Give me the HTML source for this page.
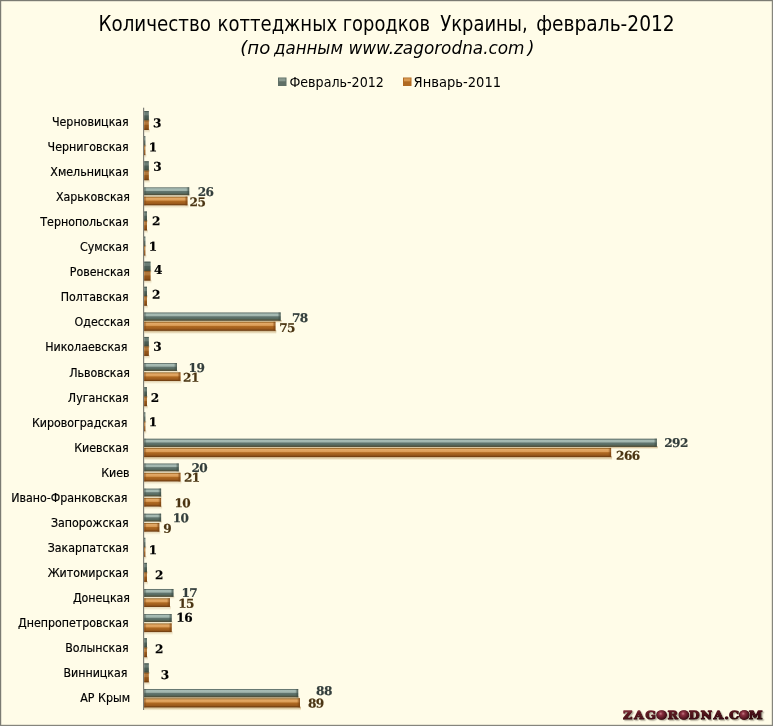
<!DOCTYPE html>
<html lang="ru"><head><meta charset="utf-8"><title>Количество коттеджных городков Украины, февраль-2012</title>
<style>
html,body{margin:0;padding:0;background:#fffce8;}
body{width:773px;height:726px;overflow:hidden;position:relative;}
svg{display:block;position:absolute;left:0;top:0;}
.t{font-family:"DejaVu Sans Condensed","Liberation Sans",sans-serif;fill:#000;}
.v{font-family:"DejaVu Serif","Liberation Serif",serif;font-weight:bold;font-size:12.1px;stroke-width:0.2px;letter-spacing:-0.55px;}
.logo{font-family:"DejaVu Serif","Liberation Serif",serif;font-weight:bold;}
</style></head><body>
<svg width="773" height="726" viewBox="0 0 773 726">
<defs>
<linearGradient id="gg" x1="0" y1="0" x2="0" y2="1">
<stop offset="0" stop-color="#62726c"/><stop offset="0.09" stop-color="#6a7c76"/>
<stop offset="0.17" stop-color="#a6bbb4"/><stop offset="0.40" stop-color="#a2b6ae"/>
<stop offset="0.52" stop-color="#627670"/><stop offset="0.76" stop-color="#566a60"/>
<stop offset="0.86" stop-color="#545a46"/><stop offset="1" stop-color="#4a4630"/>
</linearGradient>
<linearGradient id="og" x1="0" y1="0" x2="0" y2="1">
<stop offset="0" stop-color="#8e6428"/><stop offset="0.09" stop-color="#b27a38"/>
<stop offset="0.17" stop-color="#e2a866"/><stop offset="0.40" stop-color="#dc9e58"/>
<stop offset="0.52" stop-color="#b06a22"/><stop offset="0.80" stop-color="#9b5a1c"/>
<stop offset="0.90" stop-color="#7c4614"/><stop offset="1" stop-color="#6b3a10"/>
</linearGradient>
<linearGradient id="sh" x1="0" y1="0" x2="0" y2="1">
<stop offset="0" stop-color="#c4a87c" stop-opacity="1"/><stop offset="0.5" stop-color="#d6c29a" stop-opacity="0.8"/><stop offset="1" stop-color="#e6dab8" stop-opacity="0"/>
</linearGradient>
<linearGradient id="glcap" x1="1" y1="0" x2="0" y2="0">
<stop offset="0" stop-color="#3c4c44" stop-opacity="0"/><stop offset="1" stop-color="#3c4c44" stop-opacity="0.7"/>
</linearGradient>
<linearGradient id="olcap" x1="1" y1="0" x2="0" y2="0">
<stop offset="0" stop-color="#7a4210" stop-opacity="0"/><stop offset="1" stop-color="#7a4210" stop-opacity="0.7"/>
</linearGradient>
<linearGradient id="gcap" x1="0" y1="0" x2="1" y2="0">
<stop offset="0" stop-color="#3c4c44" stop-opacity="0"/><stop offset="1" stop-color="#3c4c44" stop-opacity="0.85"/>
</linearGradient>
<linearGradient id="ocap" x1="0" y1="0" x2="1" y2="0">
<stop offset="0" stop-color="#7a4210" stop-opacity="0"/><stop offset="1" stop-color="#7a4210" stop-opacity="0.85"/>
</linearGradient>
<linearGradient id="lg" x1="0" y1="0" x2="0.6" y2="1">
<stop offset="0" stop-color="#9a4450"/><stop offset="0.3" stop-color="#5e1822"/><stop offset="1" stop-color="#34080e"/>
</linearGradient>
<radialGradient id="ball" cx="0.4" cy="0.35" r="0.65">
<stop offset="0" stop-color="#c27a86"/><stop offset="0.3" stop-color="#8a3040"/><stop offset="1" stop-color="#3e0c14"/>
</radialGradient>
<filter id="ds" x="-5%" y="-30%" width="110%" height="180%"><feDropShadow dx="1.2" dy="1.2" stdDeviation="0.35" flood-color="#bdb8a6" flood-opacity="1"/></filter>
</defs>
<rect x="0" y="0" width="773" height="726" fill="#fffce8"/>

<text class="t" y="31.3" font-size="21"><tspan x="98.5" textLength="112.5" lengthAdjust="spacingAndGlyphs">Количество</tspan> <tspan x="217.6" textLength="119.5" lengthAdjust="spacingAndGlyphs">коттеджных</tspan> <tspan x="342.7" textLength="87.3" lengthAdjust="spacingAndGlyphs">городков</tspan> <tspan x="440.2" textLength="87.5" lengthAdjust="spacingAndGlyphs">Украины,</tspan> <tspan x="536.2" textLength="138.5" lengthAdjust="spacingAndGlyphs">февраль-2012</tspan></text>
<text class="t" y="53.7" font-size="18" font-style="italic"><tspan x="240.3" textLength="30" lengthAdjust="spacingAndGlyphs">(по</tspan> <tspan x="274" textLength="69" lengthAdjust="spacingAndGlyphs">данным</tspan> <tspan x="348.5" textLength="176" lengthAdjust="spacingAndGlyphs">www.zagorodna.com</tspan> <tspan x="527.5" textLength="7" lengthAdjust="spacingAndGlyphs">)</tspan></text>
<rect x="278" y="77.5" width="8.5" height="8.5" fill="#5f6f66"/><rect x="279" y="78.3" width="6.5" height="3" fill="#8a9a90"/>
<text class="t" x="289.4" y="86.6" font-size="14.6" textLength="94.5" lengthAdjust="spacingAndGlyphs">Февраль-2012</text>
<rect x="403" y="77.5" width="8.5" height="8.5" fill="#b06a22"/><rect x="404" y="78.3" width="6.5" height="3" fill="#d89850"/>
<text class="t" x="413.6" y="86.6" font-size="14.6" textLength="87.5" lengthAdjust="spacingAndGlyphs">Январь-2011</text>
<rect x="143" y="107.7" width="1.2" height="602.3" fill="#7f7f77"/>
<rect x="144.0" y="119.70" width="5.8" height="3" fill="url(#sh)" opacity="0.45"/>
<rect x="144.0" y="129.30" width="5.8" height="4" fill="url(#sh)" opacity="0.5"/>
<rect x="144.2" y="111.00" width="4.6" height="9.4" fill="url(#gg)"/>
<rect x="144.2" y="120.35" width="4.6" height="9.65" fill="url(#og)"/>
<rect x="144.2" y="111.00" width="4.6" height="9.4" fill="#3c4c44" opacity="0.55"/>
<rect x="144.2" y="120.35" width="4.6" height="9.65" fill="#7a4210" opacity="0.45"/>
<rect x="144.0" y="144.80" width="2.3" height="3" fill="url(#sh)" opacity="0.45"/>
<rect x="144.0" y="154.40" width="2.3" height="4" fill="url(#sh)" opacity="0.5"/>
<rect x="144.2" y="136.10" width="1.1" height="9.4" fill="url(#gg)"/>
<rect x="144.2" y="145.45" width="1.1" height="9.65" fill="url(#og)"/>
<rect x="144.2" y="136.10" width="1.1" height="9.4" fill="#3c4c44" opacity="0.55"/>
<rect x="144.2" y="145.45" width="1.1" height="9.65" fill="#7a4210" opacity="0.45"/>
<rect x="144.0" y="169.91" width="5.8" height="3" fill="url(#sh)" opacity="0.45"/>
<rect x="144.0" y="179.51" width="5.8" height="4" fill="url(#sh)" opacity="0.5"/>
<rect x="144.2" y="161.21" width="4.6" height="9.4" fill="url(#gg)"/>
<rect x="144.2" y="170.56" width="4.6" height="9.65" fill="url(#og)"/>
<rect x="144.2" y="161.21" width="4.6" height="9.4" fill="#3c4c44" opacity="0.55"/>
<rect x="144.2" y="170.56" width="4.6" height="9.65" fill="#7a4210" opacity="0.45"/>
<rect x="144.0" y="194.51" width="46.2" height="3" fill="url(#sh)" opacity="0.45"/>
<rect x="144.0" y="204.61" width="44.5" height="4" fill="url(#sh)" opacity="0.5"/>
<rect x="144.2" y="187.31" width="45.0" height="7.9" fill="url(#gg)"/>
<rect x="144.2" y="196.61" width="43.2" height="8.7" fill="url(#og)"/>
<rect x="186.2" y="187.31" width="3.0" height="7.9" fill="url(#gcap)"/>
<rect x="184.4" y="196.61" width="3.0" height="8.7" fill="url(#ocap)"/>
<rect x="144.2" y="187.31" width="2.5" height="7.9" fill="url(#glcap)"/>
<rect x="144.2" y="196.61" width="2.5" height="8.7" fill="url(#olcap)"/>
<rect x="144.0" y="220.12" width="4.0" height="3" fill="url(#sh)" opacity="0.45"/>
<rect x="144.0" y="229.72" width="4.0" height="4" fill="url(#sh)" opacity="0.5"/>
<rect x="144.2" y="211.42" width="2.8" height="9.4" fill="url(#gg)"/>
<rect x="144.2" y="220.77" width="2.8" height="9.65" fill="url(#og)"/>
<rect x="144.2" y="211.42" width="2.8" height="9.4" fill="#3c4c44" opacity="0.55"/>
<rect x="144.2" y="220.77" width="2.8" height="9.65" fill="#7a4210" opacity="0.45"/>
<rect x="144.0" y="245.22" width="2.3" height="3" fill="url(#sh)" opacity="0.45"/>
<rect x="144.0" y="254.82" width="2.3" height="4" fill="url(#sh)" opacity="0.5"/>
<rect x="144.2" y="236.52" width="1.1" height="9.4" fill="url(#gg)"/>
<rect x="144.2" y="245.87" width="1.1" height="9.65" fill="url(#og)"/>
<rect x="144.2" y="236.52" width="1.1" height="9.4" fill="#3c4c44" opacity="0.55"/>
<rect x="144.2" y="245.87" width="1.1" height="9.65" fill="#7a4210" opacity="0.45"/>
<rect x="144.0" y="270.32" width="7.5" height="3" fill="url(#sh)" opacity="0.45"/>
<rect x="144.0" y="279.92" width="7.5" height="4" fill="url(#sh)" opacity="0.5"/>
<rect x="144.2" y="261.62" width="6.3" height="9.4" fill="url(#gg)"/>
<rect x="144.2" y="270.97" width="6.3" height="9.65" fill="url(#og)"/>
<rect x="144.2" y="261.62" width="6.3" height="9.4" fill="#3c4c44" opacity="0.55"/>
<rect x="144.2" y="270.97" width="6.3" height="9.65" fill="#7a4210" opacity="0.45"/>
<rect x="144.0" y="295.43" width="4.0" height="3" fill="url(#sh)" opacity="0.45"/>
<rect x="144.0" y="305.03" width="4.0" height="4" fill="url(#sh)" opacity="0.5"/>
<rect x="144.2" y="286.73" width="2.8" height="9.4" fill="url(#gg)"/>
<rect x="144.2" y="296.08" width="2.8" height="9.65" fill="url(#og)"/>
<rect x="144.2" y="286.73" width="2.8" height="9.4" fill="#3c4c44" opacity="0.55"/>
<rect x="144.2" y="296.08" width="2.8" height="9.65" fill="#7a4210" opacity="0.45"/>
<rect x="144.0" y="320.03" width="137.6" height="3" fill="url(#sh)" opacity="1.0"/>
<rect x="144.0" y="330.13" width="132.3" height="4" fill="url(#sh)" opacity="1.0"/>
<rect x="144.2" y="312.43" width="136.4" height="8.3" fill="url(#gg)"/>
<rect x="144.2" y="321.73" width="131.2" height="9.1" fill="url(#og)"/>
<rect x="277.6" y="312.43" width="3.0" height="8.3" fill="url(#gcap)"/>
<rect x="272.4" y="321.73" width="3.0" height="9.1" fill="url(#ocap)"/>
<rect x="144.2" y="312.43" width="2.5" height="8.3" fill="url(#glcap)"/>
<rect x="144.2" y="321.73" width="2.5" height="9.1" fill="url(#olcap)"/>
<rect x="144.0" y="345.64" width="5.8" height="3" fill="url(#sh)" opacity="0.45"/>
<rect x="144.0" y="355.24" width="5.8" height="4" fill="url(#sh)" opacity="0.5"/>
<rect x="144.2" y="336.94" width="4.6" height="9.4" fill="url(#gg)"/>
<rect x="144.2" y="346.29" width="4.6" height="9.65" fill="url(#og)"/>
<rect x="144.2" y="336.94" width="4.6" height="9.4" fill="#3c4c44" opacity="0.55"/>
<rect x="144.2" y="346.29" width="4.6" height="9.65" fill="#7a4210" opacity="0.45"/>
<rect x="144.0" y="370.24" width="33.9" height="3" fill="url(#sh)" opacity="0.45"/>
<rect x="144.0" y="380.34" width="37.4" height="4" fill="url(#sh)" opacity="0.5"/>
<rect x="144.2" y="363.04" width="32.7" height="7.9" fill="url(#gg)"/>
<rect x="144.2" y="372.34" width="36.2" height="8.7" fill="url(#og)"/>
<rect x="173.9" y="363.04" width="3.0" height="7.9" fill="url(#gcap)"/>
<rect x="177.4" y="372.34" width="3.0" height="8.7" fill="url(#ocap)"/>
<rect x="144.2" y="363.04" width="2.5" height="7.9" fill="url(#glcap)"/>
<rect x="144.2" y="372.34" width="2.5" height="8.7" fill="url(#olcap)"/>
<rect x="144.0" y="395.84" width="4.0" height="3" fill="url(#sh)" opacity="0.45"/>
<rect x="144.0" y="405.44" width="4.0" height="4" fill="url(#sh)" opacity="0.5"/>
<rect x="144.2" y="387.14" width="2.8" height="9.4" fill="url(#gg)"/>
<rect x="144.2" y="396.49" width="2.8" height="9.65" fill="url(#og)"/>
<rect x="144.2" y="387.14" width="2.8" height="9.4" fill="#3c4c44" opacity="0.55"/>
<rect x="144.2" y="396.49" width="2.8" height="9.65" fill="#7a4210" opacity="0.45"/>
<rect x="144.0" y="420.95" width="2.3" height="3" fill="url(#sh)" opacity="0.45"/>
<rect x="144.0" y="430.55" width="2.3" height="4" fill="url(#sh)" opacity="0.5"/>
<rect x="144.2" y="412.25" width="1.1" height="9.4" fill="url(#gg)"/>
<rect x="144.2" y="421.60" width="1.1" height="9.65" fill="url(#og)"/>
<rect x="144.2" y="412.25" width="1.1" height="9.4" fill="#3c4c44" opacity="0.55"/>
<rect x="144.2" y="421.60" width="1.1" height="9.65" fill="#7a4210" opacity="0.45"/>
<rect x="144.0" y="446.25" width="513.8" height="3" fill="url(#sh)" opacity="1.0"/>
<rect x="144.0" y="456.35" width="468.1" height="4" fill="url(#sh)" opacity="1.0"/>
<rect x="144.2" y="438.65" width="512.6" height="8.3" fill="url(#gg)"/>
<rect x="144.2" y="447.95" width="466.9" height="9.1" fill="url(#og)"/>
<rect x="653.8" y="438.65" width="3.0" height="8.3" fill="url(#gcap)"/>
<rect x="608.1" y="447.95" width="3.0" height="9.1" fill="url(#ocap)"/>
<rect x="144.2" y="438.65" width="2.5" height="8.3" fill="url(#glcap)"/>
<rect x="144.2" y="447.95" width="2.5" height="9.1" fill="url(#olcap)"/>
<rect x="144.0" y="470.66" width="35.7" height="3" fill="url(#sh)" opacity="0.45"/>
<rect x="144.0" y="480.76" width="37.4" height="4" fill="url(#sh)" opacity="0.5"/>
<rect x="144.2" y="463.46" width="34.5" height="7.9" fill="url(#gg)"/>
<rect x="144.2" y="472.76" width="36.2" height="8.7" fill="url(#og)"/>
<rect x="175.7" y="463.46" width="3.0" height="7.9" fill="url(#gcap)"/>
<rect x="177.4" y="472.76" width="3.0" height="8.7" fill="url(#ocap)"/>
<rect x="144.2" y="463.46" width="2.5" height="7.9" fill="url(#glcap)"/>
<rect x="144.2" y="472.76" width="2.5" height="8.7" fill="url(#olcap)"/>
<rect x="144.0" y="495.76" width="18.1" height="3" fill="url(#sh)" opacity="0.45"/>
<rect x="144.0" y="505.86" width="18.1" height="4" fill="url(#sh)" opacity="0.5"/>
<rect x="144.2" y="488.56" width="16.9" height="7.9" fill="url(#gg)"/>
<rect x="144.2" y="497.86" width="16.9" height="8.7" fill="url(#og)"/>
<rect x="158.1" y="488.56" width="3.0" height="7.9" fill="url(#gcap)"/>
<rect x="158.1" y="497.86" width="3.0" height="8.7" fill="url(#ocap)"/>
<rect x="144.2" y="488.56" width="2.5" height="7.9" fill="url(#glcap)"/>
<rect x="144.2" y="497.86" width="2.5" height="8.7" fill="url(#olcap)"/>
<rect x="144.0" y="520.86" width="18.1" height="3" fill="url(#sh)" opacity="0.45"/>
<rect x="144.0" y="530.96" width="16.3" height="4" fill="url(#sh)" opacity="0.5"/>
<rect x="144.2" y="513.66" width="16.9" height="7.9" fill="url(#gg)"/>
<rect x="144.2" y="522.96" width="15.1" height="8.7" fill="url(#og)"/>
<rect x="158.1" y="513.66" width="3.0" height="7.9" fill="url(#gcap)"/>
<rect x="156.3" y="522.96" width="3.0" height="8.7" fill="url(#ocap)"/>
<rect x="144.2" y="513.66" width="2.5" height="7.9" fill="url(#glcap)"/>
<rect x="144.2" y="522.96" width="2.5" height="8.7" fill="url(#olcap)"/>
<rect x="144.0" y="546.47" width="2.3" height="3" fill="url(#sh)" opacity="0.45"/>
<rect x="144.0" y="556.07" width="2.3" height="4" fill="url(#sh)" opacity="0.5"/>
<rect x="144.2" y="537.77" width="1.1" height="9.4" fill="url(#gg)"/>
<rect x="144.2" y="547.12" width="1.1" height="9.65" fill="url(#og)"/>
<rect x="144.2" y="537.77" width="1.1" height="9.4" fill="#3c4c44" opacity="0.55"/>
<rect x="144.2" y="547.12" width="1.1" height="9.65" fill="#7a4210" opacity="0.45"/>
<rect x="144.0" y="571.57" width="4.0" height="3" fill="url(#sh)" opacity="0.45"/>
<rect x="144.0" y="581.17" width="4.0" height="4" fill="url(#sh)" opacity="0.5"/>
<rect x="144.2" y="562.87" width="2.8" height="9.4" fill="url(#gg)"/>
<rect x="144.2" y="572.22" width="2.8" height="9.65" fill="url(#og)"/>
<rect x="144.2" y="562.87" width="2.8" height="9.4" fill="#3c4c44" opacity="0.55"/>
<rect x="144.2" y="572.22" width="2.8" height="9.65" fill="#7a4210" opacity="0.45"/>
<rect x="144.0" y="596.18" width="30.4" height="3" fill="url(#sh)" opacity="0.45"/>
<rect x="144.0" y="606.28" width="26.9" height="4" fill="url(#sh)" opacity="0.5"/>
<rect x="144.2" y="588.98" width="29.2" height="7.9" fill="url(#gg)"/>
<rect x="144.2" y="598.28" width="25.7" height="8.7" fill="url(#og)"/>
<rect x="170.4" y="588.98" width="3.0" height="7.9" fill="url(#gcap)"/>
<rect x="166.9" y="598.28" width="3.0" height="8.7" fill="url(#ocap)"/>
<rect x="144.2" y="588.98" width="2.5" height="7.9" fill="url(#glcap)"/>
<rect x="144.2" y="598.28" width="2.5" height="8.7" fill="url(#olcap)"/>
<rect x="144.0" y="621.28" width="28.6" height="3" fill="url(#sh)" opacity="0.45"/>
<rect x="144.0" y="631.38" width="28.6" height="4" fill="url(#sh)" opacity="0.5"/>
<rect x="144.2" y="614.08" width="27.4" height="7.9" fill="url(#gg)"/>
<rect x="144.2" y="623.38" width="27.4" height="8.7" fill="url(#og)"/>
<rect x="168.6" y="614.08" width="3.0" height="7.9" fill="url(#gcap)"/>
<rect x="168.6" y="623.38" width="3.0" height="8.7" fill="url(#ocap)"/>
<rect x="144.2" y="614.08" width="2.5" height="7.9" fill="url(#glcap)"/>
<rect x="144.2" y="623.38" width="2.5" height="8.7" fill="url(#olcap)"/>
<rect x="144.0" y="646.88" width="4.0" height="3" fill="url(#sh)" opacity="0.45"/>
<rect x="144.0" y="656.48" width="4.0" height="4" fill="url(#sh)" opacity="0.5"/>
<rect x="144.2" y="638.18" width="2.8" height="9.4" fill="url(#gg)"/>
<rect x="144.2" y="647.53" width="2.8" height="9.65" fill="url(#og)"/>
<rect x="144.2" y="638.18" width="2.8" height="9.4" fill="#3c4c44" opacity="0.55"/>
<rect x="144.2" y="647.53" width="2.8" height="9.65" fill="#7a4210" opacity="0.45"/>
<rect x="144.0" y="671.99" width="5.8" height="3" fill="url(#sh)" opacity="0.45"/>
<rect x="144.0" y="681.59" width="5.8" height="4" fill="url(#sh)" opacity="0.5"/>
<rect x="144.2" y="663.29" width="4.6" height="9.4" fill="url(#gg)"/>
<rect x="144.2" y="672.64" width="4.6" height="9.65" fill="url(#og)"/>
<rect x="144.2" y="663.29" width="4.6" height="9.4" fill="#3c4c44" opacity="0.55"/>
<rect x="144.2" y="672.64" width="4.6" height="9.65" fill="#7a4210" opacity="0.45"/>
<rect x="144.0" y="696.59" width="155.2" height="3" fill="url(#sh)" opacity="1.0"/>
<rect x="144.0" y="706.69" width="157.0" height="4" fill="url(#sh)" opacity="1.0"/>
<rect x="144.2" y="688.99" width="154.0" height="8.3" fill="url(#gg)"/>
<rect x="144.2" y="698.29" width="155.8" height="9.1" fill="url(#og)"/>
<rect x="295.2" y="688.99" width="3.0" height="8.3" fill="url(#gcap)"/>
<rect x="297.0" y="698.29" width="3.0" height="9.1" fill="url(#ocap)"/>
<rect x="144.2" y="688.99" width="2.5" height="8.3" fill="url(#glcap)"/>
<rect x="144.2" y="698.29" width="2.5" height="9.1" fill="url(#olcap)"/>
<text class="t" x="128.75" y="126.30" font-size="12.3" text-anchor="end" stroke="#000" stroke-width="0.18">Черновицкая</text>
<text class="t" x="128.75" y="151.32" font-size="12.3" text-anchor="end" stroke="#000" stroke-width="0.18">Черниговская</text>
<text class="t" x="128.75" y="176.34" font-size="12.3" text-anchor="end" stroke="#000" stroke-width="0.18">Хмельницкая</text>
<text class="t" x="130" y="201.36" font-size="12.3" text-anchor="end" stroke="#000" stroke-width="0.18">Харьковская</text>
<text class="t" x="128.75" y="226.38" font-size="12.3" text-anchor="end" stroke="#000" stroke-width="0.18">Тернопольская</text>
<text class="t" x="128.75" y="251.40" font-size="12.3" text-anchor="end" stroke="#000" stroke-width="0.18">Сумская</text>
<text class="t" x="130" y="276.42" font-size="12.3" text-anchor="end" stroke="#000" stroke-width="0.18">Ровенская</text>
<text class="t" x="128.75" y="301.44" font-size="12.3" text-anchor="end" stroke="#000" stroke-width="0.18">Полтавская</text>
<text class="t" x="130" y="326.46" font-size="12.3" text-anchor="end" stroke="#000" stroke-width="0.18">Одесская</text>
<text class="t" x="127.5" y="351.48" font-size="12.3" text-anchor="end" stroke="#000" stroke-width="0.18">Николаевская</text>
<text class="t" x="130" y="376.50" font-size="12.3" text-anchor="end" stroke="#000" stroke-width="0.18">Львовская</text>
<text class="t" x="128.75" y="401.52" font-size="12.3" text-anchor="end" stroke="#000" stroke-width="0.18">Луганская</text>
<text class="t" x="127.5" y="426.54" font-size="12.3" text-anchor="end" stroke="#000" stroke-width="0.18">Кировоградская</text>
<text class="t" x="128.75" y="451.56" font-size="12.3" text-anchor="end" stroke="#000" stroke-width="0.18">Киевская</text>
<text class="t" x="129.5" y="476.58" font-size="12.3" text-anchor="end" stroke="#000" stroke-width="0.18">Киев</text>
<text class="t" x="127.5" y="501.60" font-size="12.3" text-anchor="end" stroke="#000" stroke-width="0.18">Ивано-Франковская</text>
<text class="t" x="128.75" y="526.62" font-size="12.3" text-anchor="end" stroke="#000" stroke-width="0.18">Запорожская</text>
<text class="t" x="128.75" y="551.64" font-size="12.3" text-anchor="end" stroke="#000" stroke-width="0.18">Закарпатская</text>
<text class="t" x="128.75" y="576.66" font-size="12.3" text-anchor="end" stroke="#000" stroke-width="0.18">Житомирская</text>
<text class="t" x="130" y="601.68" font-size="12.3" text-anchor="end" stroke="#000" stroke-width="0.18">Донецкая</text>
<text class="t" x="128.75" y="626.70" font-size="12.3" text-anchor="end" stroke="#000" stroke-width="0.18">Днепропетровская</text>
<text class="t" x="128.75" y="651.72" font-size="12.3" text-anchor="end" stroke="#000" stroke-width="0.18">Волынская</text>
<text class="t" x="127.5" y="676.74" font-size="12.3" text-anchor="end" stroke="#000" stroke-width="0.18">Винницкая</text>
<text class="t" x="130" y="701.76" font-size="12.3" text-anchor="end" stroke="#000" stroke-width="0.18">АР Крым</text>
<text class="v" transform="translate(153.10 127.30) rotate(0.15)" fill="#000000" stroke="#000000">3</text>
<text class="v" transform="translate(148.70 151.55) rotate(0.15)" fill="#000000" stroke="#000000">1</text>
<text class="v" transform="translate(153.15 170.80) rotate(0.15)" fill="#000000" stroke="#000000">3</text>
<text class="v" transform="translate(197.70 195.90) rotate(0.15)" fill="#333e3c" stroke="#333e3c">26</text>
<text class="v" transform="translate(189.60 206.30) rotate(0.15)" fill="#4a3412" stroke="#4a3412">25</text>
<text class="v" transform="translate(151.90 225.30) rotate(0.15)" fill="#000000" stroke="#000000">2</text>
<text class="v" transform="translate(148.65 250.80) rotate(0.15)" fill="#000000" stroke="#000000">1</text>
<text class="v" transform="translate(153.90 274.05) rotate(0.15)" fill="#000000" stroke="#000000">4</text>
<text class="v" transform="translate(151.90 298.80) rotate(0.15)" fill="#000000" stroke="#000000">2</text>
<text class="v" transform="translate(291.90 321.90) rotate(0.15)" fill="#333e3c" stroke="#333e3c">78</text>
<text class="v" transform="translate(279.20 332.10) rotate(0.15)" fill="#4a3412" stroke="#4a3412">75</text>
<text class="v" transform="translate(153.15 350.80) rotate(0.15)" fill="#000000" stroke="#000000">3</text>
<text class="v" transform="translate(188.60 371.90) rotate(0.15)" fill="#333e3c" stroke="#333e3c">19</text>
<text class="v" transform="translate(183.10 381.80) rotate(0.15)" fill="#4a3412" stroke="#4a3412">21</text>
<text class="v" transform="translate(150.80 402.10) rotate(0.15)" fill="#000000" stroke="#000000">2</text>
<text class="v" transform="translate(148.65 426.30) rotate(0.15)" fill="#000000" stroke="#000000">1</text>
<text class="v" transform="translate(664.20 447.00) rotate(0.15)" fill="#333e3c" stroke="#333e3c">292</text>
<text class="v" transform="translate(616.10 459.80) rotate(0.15)" fill="#4a3412" stroke="#4a3412">266</text>
<text class="v" transform="translate(191.40 471.90) rotate(0.15)" fill="#333e3c" stroke="#333e3c">20</text>
<text class="v" transform="translate(184.00 481.80) rotate(0.15)" fill="#4a3412" stroke="#4a3412">21</text>
<text class="v" transform="translate(174.40 507.30) rotate(0.15)" fill="#4a3412" stroke="#4a3412">10</text>
<text class="v" transform="translate(172.65 522.30) rotate(0.15)" fill="#333e3c" stroke="#333e3c">10</text>
<text class="v" transform="translate(163.15 532.80) rotate(0.15)" fill="#4a3412" stroke="#4a3412">9</text>
<text class="v" transform="translate(148.65 554.30) rotate(0.15)" fill="#000000" stroke="#000000">1</text>
<text class="v" transform="translate(154.90 579.30) rotate(0.15)" fill="#000000" stroke="#000000">2</text>
<text class="v" transform="translate(181.40 596.90) rotate(0.15)" fill="#333e3c" stroke="#333e3c">17</text>
<text class="v" transform="translate(178.20 607.70) rotate(0.15)" fill="#4a3412" stroke="#4a3412">15</text>
<text class="v" transform="translate(176.30 621.70) rotate(0.15)" fill="#000000" stroke="#000000">16</text>
<text class="v" transform="translate(154.90 653.30) rotate(0.15)" fill="#000000" stroke="#000000">2</text>
<text class="v" transform="translate(160.65 679.05) rotate(0.15)" fill="#000000" stroke="#000000">3</text>
<text class="v" transform="translate(316.10 694.90) rotate(0.15)" fill="#333e3c" stroke="#333e3c">88</text>
<text class="v" transform="translate(307.90 707.60) rotate(0.15)" fill="#4a3412" stroke="#4a3412">89</text>
<text class="logo" font-size="11.5" text-anchor="middle" transform="scale(1.07 1)" x="586.8 597.1 608.2 618.3 628.8 639.2 649.0 660.1 671.5 679.2 686.2 695.6 706.3" y="719.1" fill="url(#lg)" stroke="url(#lg)" stroke-width="1.3" stroke-linejoin="round" filter="url(#ds)">ZAGORODNA.COM</text>
<circle cx="661.6" cy="715.1" r="4.7" fill="url(#ball)"/>
<circle cx="684.0" cy="715.1" r="4.7" fill="url(#ball)"/>
<circle cx="744.2" cy="715.1" r="4.8" fill="url(#ball)"/>
<rect x="0" y="0" width="773" height="1.2" fill="#7b7b73"/><rect x="0" y="0" width="1.2" height="726" fill="#7b7b73"/>
<rect x="771.8" y="0" width="1.2" height="726" fill="#85857d"/><rect x="0" y="724.8" width="773" height="1.2" fill="#85857d"/>
</svg></body></html>
